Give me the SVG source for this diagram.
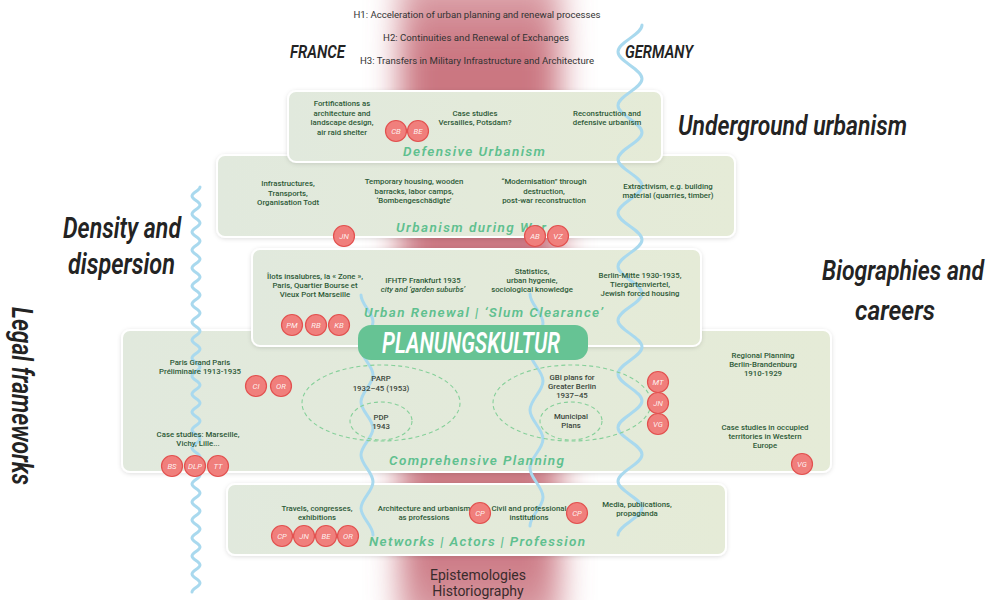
<svg xmlns="http://www.w3.org/2000/svg" width="996" height="600" viewBox="0 0 996 600">
<defs>
<filter id="blur" x="-50%" y="-10%" width="200%" height="120%"><feGaussianBlur stdDeviation="16"/></filter>
<filter id="sh" x="-5%" y="-10%" width="110%" height="130%"><feDropShadow dx="0" dy="1" stdDeviation="2" flood-color="#000" flood-opacity="0.13"/></filter>
<linearGradient id="pg" x1="0" y1="0" x2="1" y2="0"><stop offset="0" stop-color="#e1e9dd"/><stop offset="1" stop-color="#e5ebd7"/></linearGradient>
<linearGradient id="glowg" x1="0" y1="0" x2="0" y2="1"><stop offset="0" stop-color="#c66a76" stop-opacity="0.5"/><stop offset="0.12" stop-color="#c66a76" stop-opacity="0.92"/><stop offset="0.9" stop-color="#c66a76" stop-opacity="0.88"/><stop offset="1" stop-color="#c66a76" stop-opacity="0.6"/></linearGradient>
<style>
.panel{fill:url(#pg);stroke:#ffffff;stroke-width:2;filter:url(#sh)}
.b{font-family:Roboto,"Liberation Sans",sans-serif;font-weight:500;font-size:7.8px;fill:#2d5a37;text-anchor:middle}
.g{font-family:Roboto,"Liberation Sans",sans-serif;font-weight:500;font-size:7.8px;fill:#3b473c;text-anchor:middle}
.ttl{font-family:Roboto,"Liberation Sans",sans-serif;font-style:italic;font-weight:600;font-size:13.5px;fill:#5fc08f}
.big{font-family:Roboto,"Liberation Sans",sans-serif;font-style:italic;font-weight:600;fill:#232323}
.hyp{font-family:Roboto,"Liberation Sans",sans-serif;font-size:9.6px;fill:#333;text-anchor:middle}
.epi{font-family:Roboto,"Liberation Sans",sans-serif;font-size:14px;fill:#3a2b2c;text-anchor:middle}
.av circle{fill:#f07f7c;stroke:#e2514f;stroke-width:1.2}
.av text{font-family:Roboto,"Liberation Sans",sans-serif;font-style:italic;font-size:7.8px;fill:#ffffff;fill-opacity:0.9;text-anchor:middle}
.wave{fill:none;stroke:#a9d9ee;stroke-width:3;stroke-linecap:round}
.ell{fill:none;stroke:#86d09a;stroke-width:1.1;stroke-dasharray:4 3}
</style>
</defs>
<rect width="996" height="600" fill="#ffffff"/>
<!-- red glow axis -->
<rect x="400" y="-30" width="160" height="660" fill="url(#glowg)" filter="url(#blur)"/>

<!-- hypotheses -->
<g id="hypotheses">
<text class="hyp" x="477" y="18" textLength="247">H1: Acceleration of urban planning and renewal processes</text>
<text class="hyp" x="476" y="41" textLength="186">H2: Continuities and Renewal of Exchanges</text>
<text class="hyp" x="477" y="64" textLength="234">H3: Transfers in Military Infrastructure and Architecture</text>
</g>

<!-- panels -->
<g id="comprehensive-planning"><rect class="panel" x="122" y="330" width="709" height="142" rx="8"/></g>
<g id="urban-renewal"><rect class="panel" x="252" y="249" width="449" height="97" rx="8"/></g>
<g id="urbanism-war"><rect class="panel" x="217" y="155" width="518" height="82" rx="8"/></g>
<g id="defensive-urbanism"><rect class="panel" x="288" y="91" width="374" height="71" rx="8"/></g>
<g id="networks"><rect class="panel" x="227" y="484" width="499" height="71" rx="8"/></g>

<!-- wavy borders -->
<g id="connectors">
<path class="wave" d="M642,25 C642,34.7 618,42.1 618,51.8 S642,69 642,78.7 S618,95.8 618,105.5 S642,122.7 642,132.4 S618,149.5 618,159.2 S642,176.3 642,186 S618,203.2 618,212.9 S642,230 642,239.7 S618,256.9 618,266.6 S642,283.7 642,293.4 S618,310.5 618,320.2 S642,337.4 642,347.1 S618,364.2 618,373.9 S642,391.1 642,400.8 S618,417.9 618,427.6 S642,444.7 642,454.4 S618,471.6 618,481.3 S642,498.4 642,508.1 S618,525.3 618,535"/>
<path class="wave" d="M200,187 c0,3.3 -8,5.7 -8,9 s8,5.7 8,9 s-8,5.7 -8,9 s8,5.7 8,9 s-8,5.7 -8,9 s8,5.7 8,9 s-8,5.7 -8,9 s8,5.7 8,9 s-8,5.7 -8,9 s8,5.7 8,9 s-8,5.7 -8,9 s8,5.7 8,9 s-8,5.7 -8,9 s8,5.7 8,9 s-8,5.7 -8,9 s8,5.7 8,9 s-8,5.7 -8,9 s8,5.7 8,9 s-8,5.7 -8,9 s8,5.7 8,9 s-8,5.7 -8,9 s8,5.7 8,9 s-8,5.7 -8,9 s8,5.7 8,9 s-8,5.7 -8,9 s8,5.7 8,9 s-8,5.7 -8,9 s8,5.7 8,9 s-8,5.7 -8,9 s8,5.7 8,9 s-8,5.7 -8,9 s8,5.7 8,9 s-8,5.7 -8,9 s8,5.7 8,9 s-8,5.7 -8,9 s8,5.7 8,9 s-8,5.7 -8,9 s8,5.7 8,9 s-8,5.7 -8,9 s8,5.7 8,9 s-8,5.7 -8,9 s8,5.7 8,9 s-8,5.7 -8,9 s8,5.7 8,9 s-8,5.7 -8,9"/>
<path class="wave" d="M361,295 C361,304.6 373,312.1 373,321.7 S361,338.7 361,348.3 S373,365.4 373,375 S361,392 361,401.7 S373,418.7 373,428.3 S361,445.4 361,455 S373,472 373,481.7 S361,498.7 361,508.3 S373,525.4 373,535"/>
<path class="wave" d="M530,294 C530,304.4 543,312.6 543,323 S530,341.6 530,352 S543,370.6 543,381 S530,399.6 530,410 S543,428.6 543,439 S530,457.6 530,468 S543,486.6 543,497 S530,515.6 530,526"/>
</g>

<!-- big side labels -->
<g id="labels">
<text class="big" x="290" y="58" font-size="18" font-weight="700" textLength="55" lengthAdjust="spacingAndGlyphs">FRANCE</text>
<text class="big" x="625" y="58" font-size="18" font-weight="700" textLength="68" lengthAdjust="spacingAndGlyphs">GERMANY</text>
<text class="big" x="678" y="135" font-size="28" textLength="229" lengthAdjust="spacingAndGlyphs">Underground urbanism</text>
<text class="big" x="822" y="280" font-size="28" textLength="162" lengthAdjust="spacingAndGlyphs">Biographies and</text>
<text class="big" x="855" y="320" font-size="28" textLength="80" lengthAdjust="spacingAndGlyphs">careers</text>
<text class="big" x="63" y="238" font-size="29" textLength="118" lengthAdjust="spacingAndGlyphs">Density and</text>
<text class="big" x="68" y="274" font-size="29" textLength="107" lengthAdjust="spacingAndGlyphs">dispersion</text>
<text class="big" transform="translate(12,307) rotate(90)" x="0" y="0" font-size="29" textLength="178" lengthAdjust="spacingAndGlyphs">Legal frameworks</text>
</g>

<!-- panel 1 content -->
<g id="defensive-content">
<text class="b" x="342" y="106">Fortifications as</text>
<text class="b" x="342" y="115.5">architecture and</text>
<text class="b" x="342" y="125">landscape design,</text>
<text class="b" x="342" y="134.5">air raid shelter</text>
<text class="b" x="475" y="116">Case studies</text>
<text class="b" x="475" y="125">Versailles, Potsdam?</text>
<text class="b" x="607" y="116">Reconstruction and</text>
<text class="b" x="607" y="125">defensive urbanism</text>
<text class="ttl" x="403" y="156" textLength="142">Defensive Urbanism</text>
</g>

<!-- panel 2 content -->
<g id="war-content">
<text class="b" x="288" y="186">Infrastructures,</text>
<text class="b" x="288" y="195.5">Transports,</text>
<text class="b" x="288" y="205">Organisation Todt</text>
<text class="b" x="414" y="184">Temporary housing, wooden</text>
<text class="b" x="414" y="193.5">barracks, labor camps,</text>
<text class="b" x="414" y="203">‘Bombengeschädigte’</text>
<text class="b" x="544" y="184">“Modernisation” through</text>
<text class="b" x="544" y="193.5">destruction,</text>
<text class="b" x="544" y="203">post-war reconstruction</text>
<text class="b" x="668" y="188.5">Extractivism, e.g. building</text>
<text class="b" x="668" y="198">material (quarries, timber)</text>
<text class="ttl" x="396" y="232" textLength="150">Urbanism during War</text>
</g>

<!-- panel 3 content -->
<g id="renewal-content">
<text class="b" x="315" y="279">Îlots insalubres, la « Zone »,</text>
<text class="b" x="315" y="288">Paris, Quartier Bourse et</text>
<text class="b" x="315" y="297">Vieux Port Marseille</text>
<text class="b" x="423" y="283" font-weight="700">IFHTP Frankfurt 1935</text>
<text class="b" x="423" y="292" font-style="italic" font-weight="400">city and ‘garden suburbs’</text>
<text class="b" x="532" y="274">Statistics,</text>
<text class="b" x="532" y="283">urban hygenie,</text>
<text class="b" x="532" y="292">sociological knowledge</text>
<text class="b" x="640" y="278">Berlin-Mitte 1930-1935,</text>
<text class="b" x="640" y="287">Tiergartenviertel,</text>
<text class="b" x="640" y="296">Jewish forced housing</text>
<text class="ttl" x="364" y="317" textLength="239">Urban Renewal | ‘Slum Clearance’</text>
</g>

<!-- panel 4 content -->
<g id="comprehensive-content">
<text class="b" x="200" y="365">Paris Grand Paris</text>
<text class="b" x="200" y="374">Préliminaire 1913-1935</text>
<text class="b" x="198" y="437">Case studies: Marseille,</text>
<text class="b" x="198" y="446">Vichy, Lille...</text>
<ellipse class="ell" cx="381" cy="403" rx="79" ry="38"/>
<ellipse class="ell" cx="381" cy="421" rx="31" ry="19"/>
<text class="g" x="381" y="381">PARP</text>
<text class="g" x="381" y="391">1932–45 (1953)</text>
<text class="g" x="381" y="420">PDP</text>
<text class="g" x="381" y="429">1943</text>
<ellipse class="ell" cx="572" cy="403" rx="79" ry="38"/>
<ellipse class="ell" cx="571" cy="421" rx="31" ry="19"/>
<text class="g" x="572" y="380">GBI plans for</text>
<text class="g" x="572" y="389">Greater Berlin</text>
<text class="g" x="572" y="398">1937–45</text>
<text class="g" x="571" y="419">Municipal</text>
<text class="g" x="571" y="428">Plans</text>
<text class="b" x="763" y="358">Regional Planning</text>
<text class="b" x="763" y="367">Berlin-Brandenburg</text>
<text class="b" x="763" y="376">1910-1929</text>
<text class="b" x="765" y="430">Case studies in occupied</text>
<text class="b" x="765" y="439">territories in Western</text>
<text class="b" x="765" y="448">Europe</text>
<text class="ttl" x="389" y="465" textLength="175">Comprehensive Planning</text>
</g>

<!-- panel 5 content -->
<g id="networks-content">
<text class="b" x="317" y="511">Travels, congresses,</text>
<text class="b" x="317" y="520">exhibitions</text>
<text class="b" x="424" y="511">Architecture and urbanism</text>
<text class="b" x="424" y="520">as professions</text>
<text class="b" x="529" y="511">Civil and professional</text>
<text class="b" x="529" y="520">institutions</text>
<text class="b" x="637" y="507">Media, publications,</text>
<text class="b" x="637" y="516">propaganda</text>
<text class="ttl" x="369" y="546" textLength="216">Networks | Actors | Profession</text>
</g>

<!-- central pill -->
<g id="planungskultur">
<rect x="358" y="325" width="230" height="35" rx="13" fill="#66c394"/>
<text class="big" x="382" y="353" font-size="30" font-weight="500" style="fill:#ffffff" textLength="178" lengthAdjust="spacingAndGlyphs">PLANUNGSKULTUR</text>
</g>

<!-- avatars -->
<g id="avatars" class="av">
<g><circle cx="396" cy="131" r="10.5"/><text x="396" y="133.8">CB</text></g>
<g><circle cx="418" cy="131" r="10.5"/><text x="418" y="133.8">BE</text></g>
<g><circle cx="344" cy="236" r="10.5"/><text x="344" y="238.8">JN</text></g>
<g><circle cx="535" cy="236" r="10.5"/><text x="535" y="238.8">AB</text></g>
<g><circle cx="558" cy="236" r="10.5"/><text x="558" y="238.8">VZ</text></g>
<g><circle cx="292" cy="325" r="10.5"/><text x="292" y="327.8">PM</text></g>
<g><circle cx="316" cy="325" r="10.5"/><text x="316" y="327.8">RB</text></g>
<g><circle cx="339" cy="325" r="10.5"/><text x="339" y="327.8">KB</text></g>
<g><circle cx="256" cy="386" r="10.5"/><text x="256" y="388.8">CI</text></g>
<g><circle cx="281" cy="386" r="10.5"/><text x="281" y="388.8">OR</text></g>
<g><circle cx="172" cy="466" r="10.5"/><text x="172" y="468.8">BS</text></g>
<g><circle cx="195" cy="466" r="10.5"/><text x="195" y="468.8">DLP</text></g>
<g><circle cx="218" cy="466" r="10.5"/><text x="218" y="468.8">TT</text></g>
<g><circle cx="658" cy="382" r="10.5"/><text x="658" y="384.8">MT</text></g>
<g><circle cx="658" cy="403" r="10.5"/><text x="658" y="405.8">JN</text></g>
<g><circle cx="658" cy="424" r="10.5"/><text x="658" y="426.8">VG</text></g>
<g><circle cx="802" cy="464" r="10.5"/><text x="802" y="466.8">VG</text></g>
<g><circle cx="282" cy="536" r="10.5"/><text x="282" y="538.8">CP</text></g>
<g><circle cx="304" cy="536" r="10.5"/><text x="304" y="538.8">JN</text></g>
<g><circle cx="326" cy="536" r="10.5"/><text x="326" y="538.8">BE</text></g>
<g><circle cx="348" cy="536" r="10.5"/><text x="348" y="538.8">OR</text></g>
<g><circle cx="480" cy="513" r="10.5"/><text x="480" y="515.8">CP</text></g>
<g><circle cx="577" cy="513" r="10.5"/><text x="577" y="515.8">CP</text></g>
</g>

<g id="epistemologies">
<text class="epi" x="478" y="580">Epistemologies</text>
<text class="epi" x="478" y="596">Historiography</text>
</g>
</svg>
